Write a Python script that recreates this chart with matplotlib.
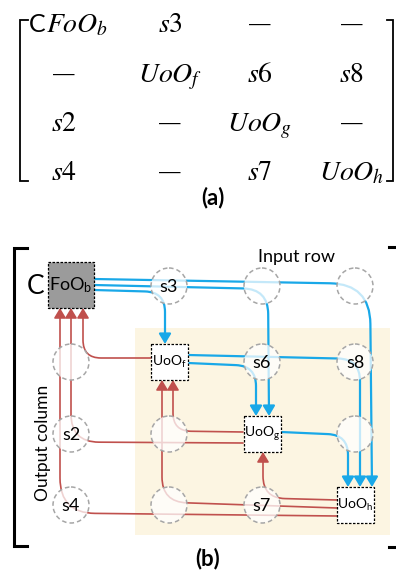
import numpy as np
import matplotlib
matplotlib.use("Agg")
import matplotlib.pyplot as plt
from matplotlib.path import Path
from matplotlib.patches import FancyArrowPatch, Circle, Rectangle

plt.rcParams['mathtext.fontset'] = 'custom'
plt.rcParams['mathtext.rm'] = 'Lato'
plt.rcParams['mathtext.it'] = 'Lato:italic'
plt.rcParams['mathtext.bf'] = 'Lato:bold'

# ---------------- data ----------------
# (a) matrix entries, row by row
matrix_row1 = [r"$FoO_b$", r"$s3$", "—", "—"]
matrix_row2 = ["—", r"$UoO_f$", r"$s6$", r"$s8$"]
matrix_row3 = [r"$s2$", "—", r"$UoO_g$", "—"]
matrix_row4 = [r"$s4$", "—", r"$s7$", r"$UoO_h$"]
matrix_rows = [matrix_row1, matrix_row2, matrix_row3, matrix_row4]
matrix_prefix = "C"

# (b) grid nodes: "" = empty circle, box:<label> = operator box
grid_row1 = ["box:FoO_b", "s3", "", ""]
grid_row2 = ["", "box:UoO_f", "s6", "s8"]
grid_row3 = ["s2", "", "box:UoO_g", ""]
grid_row4 = ["s4", "", "s7", "box:UoO_h"]
grid_rows = [grid_row1, grid_row2, grid_row3, grid_row4]

# ---------------- layout ----------------
W, H = 396, 571
fig = plt.figure(figsize=(W / 100, H / 100), dpi=100)
ax = fig.add_axes([0, 0, 1, 1])
ax.set_xlim(0, W)
ax.set_ylim(H, 0)
ax.axis('off')

BLUE = '#19a8e8'
RED = '#c0504d'

# ---------- (a) ----------
mcol_x = [64, 170, 260, 352]
mrow_base = [32, 82, 131, 180]
for r, row in enumerate(matrix_rows):
    for c, lab in enumerate(row):
        if lab == "—":
            ax.text(mcol_x[c], mrow_base[r] - 1, lab, ha='center', va='baseline',
                    fontsize=17, family='DejaVu Serif', color='black')
        elif r == 0 and c == 0:
            ax.text(29, mrow_base[r], matrix_prefix, ha='left', va='baseline',
                    fontsize=18, family='Lato', color='black')
            ax.text(46, mrow_base[r], lab, ha='left', va='baseline',
                    fontsize=20, math_fontfamily='stix', color='black')
        else:
            ax.text(mcol_x[c], mrow_base[r], lab, ha='center', va='baseline',
                    fontsize=20, math_fontfamily='stix', color='black')
ax.plot([28, 20, 20, 28], [20, 20, 181, 181], color='black', lw=1.3,
        solid_joinstyle='miter')
ax.plot([387, 393, 393, 387], [20, 20, 181, 181], color='black', lw=1.3,
        solid_joinstyle='miter')
ax.text(213, 198, "(a)", ha='center', va='center', fontsize=16,
        family='Lato', fontweight='bold')

# ---------- (b) ----------
gx = [71, 169, 262, 355]
gy = [286, 362, 434, 505]

ax.add_patch(Rectangle((135, 328), 255, 207, facecolor='#fcf5e2',
                       edgecolor='none', zorder=0))

ax.plot([27, 14, 14, 27], [248, 248, 546, 546], color='black', lw=2.2,
        solid_joinstyle='miter')
ax.plot([389, 398, 398, 389], [247, 247, 547, 547], color='black', lw=2.2,
        solid_joinstyle='miter')

ax.text(36, 287, "C", ha='center', va='center', fontsize=19, family='Lato')
ax.text(297, 257, "Input row", ha='center', va='center', fontsize=13,
        family='Lato')
ax.text(43, 443, "Output column", ha='center', va='center', fontsize=12.5,
        family='Lato', rotation=90)
ax.text(208, 559, "(b)", ha='center', va='center', fontsize=16,
        family='Lato', fontweight='bold')


def rounded(pts, rad):
    verts = [pts[0]]
    codes = [Path.MOVETO]
    for i in range(1, len(pts) - 1):
        A = np.array(pts[i - 1], float)
        C = np.array(pts[i], float)
        B = np.array(pts[i + 1], float)
        u1 = (C - A) / np.linalg.norm(C - A)
        u2 = (B - C) / np.linalg.norm(B - C)
        verts += [tuple(C - u1 * rad), tuple(C), tuple(C + u2 * rad)]
        codes += [Path.LINETO, Path.CURVE3, Path.CURVE3]
    verts.append(pts[-1])
    codes.append(Path.LINETO)
    return Path(verts, codes)


def route(pts, rad, color, lw, hl, hw):
    p = FancyArrowPatch(path=rounded(pts, rad),
                        arrowstyle=f'-|>,head_length={hl},head_width={hw}',
                        color=color, lw=lw, mutation_scale=1, zorder=1)
    ax.add_patch(p)


# blue routes (input row -> operators)
blue_routes = [
    ([(94, 279), (370, 284), (372, 487)], 40),
    ([(94, 285), (268, 289), (269, 416)], 25),
    ([(94, 290), (165, 292), (165, 344)], 20),
    ([(188, 355), (360, 359), (360, 487)], 22),
    ([(188, 363), (256, 366), (256, 416)], 20),
    ([(281, 432), (348, 435), (348, 487)], 20),
]
for pts, rad in blue_routes:
    route(pts, rad, BLUE, 1.6, 6, 3.6)

# red routes (operators -> output column)
red_routes = [
    ([(151, 358), (83, 358), (83, 308)], 18),
    ([(243, 443), (71, 442), (71, 308)], 28),
    ([(337, 516), (60, 513), (60, 308)], 35),
    ([(243, 432), (173, 431), (173, 380)], 18),
    ([(337, 508), (162, 502), (162, 380)], 25),
    ([(337, 500), (263, 498), (263, 452)], 22),
]
for pts, rad in red_routes:
    route(pts, rad, RED, 1.2, 6, 3.6)

# nodes
for r, row in enumerate(grid_rows):
    for c, lab in enumerate(row):
        x, y = gx[c], gy[r]
        if lab.startswith("box:"):
            name = lab[4:]
            base, sub = name.split("_")
            if name == "FoO_b":
                ax.add_patch(Rectangle((48, 262), 46, 46, facecolor='#9b9b9b',
                                       edgecolor='black', lw=0.9, ls=(0, (2, 1.2)),
                                       zorder=3))
                ax.text(71, 285, rf"$\mathrm{{{base}}}_\mathrm{{{sub}}}$",
                        ha='center', va='center', fontsize=13, zorder=4)
            else:
                ax.add_patch(Rectangle((x - 18.5, y - 18), 37, 36, facecolor='white',
                                       edgecolor='black', lw=0.9, ls=(0, (2, 1.2)),
                                       zorder=3))
                ax.text(x, y, rf"$\mathrm{{{base}}}_\mathrm{{{sub}}}$",
                        ha='center', va='center', fontsize=10, zorder=4)
        else:
            ax.add_patch(Circle((x, y), 18, facecolor=(1, 1, 1, 0.75),
                                edgecolor='#a6a6a6', lw=1.1, ls=(0, (3, 2)),
                                zorder=2))
            if lab:
                ax.text(x, y + 1, lab, ha='center', va='center', fontsize=13,
                        family='Lato', zorder=4)

fig.savefig("out.png", dpi=100)
